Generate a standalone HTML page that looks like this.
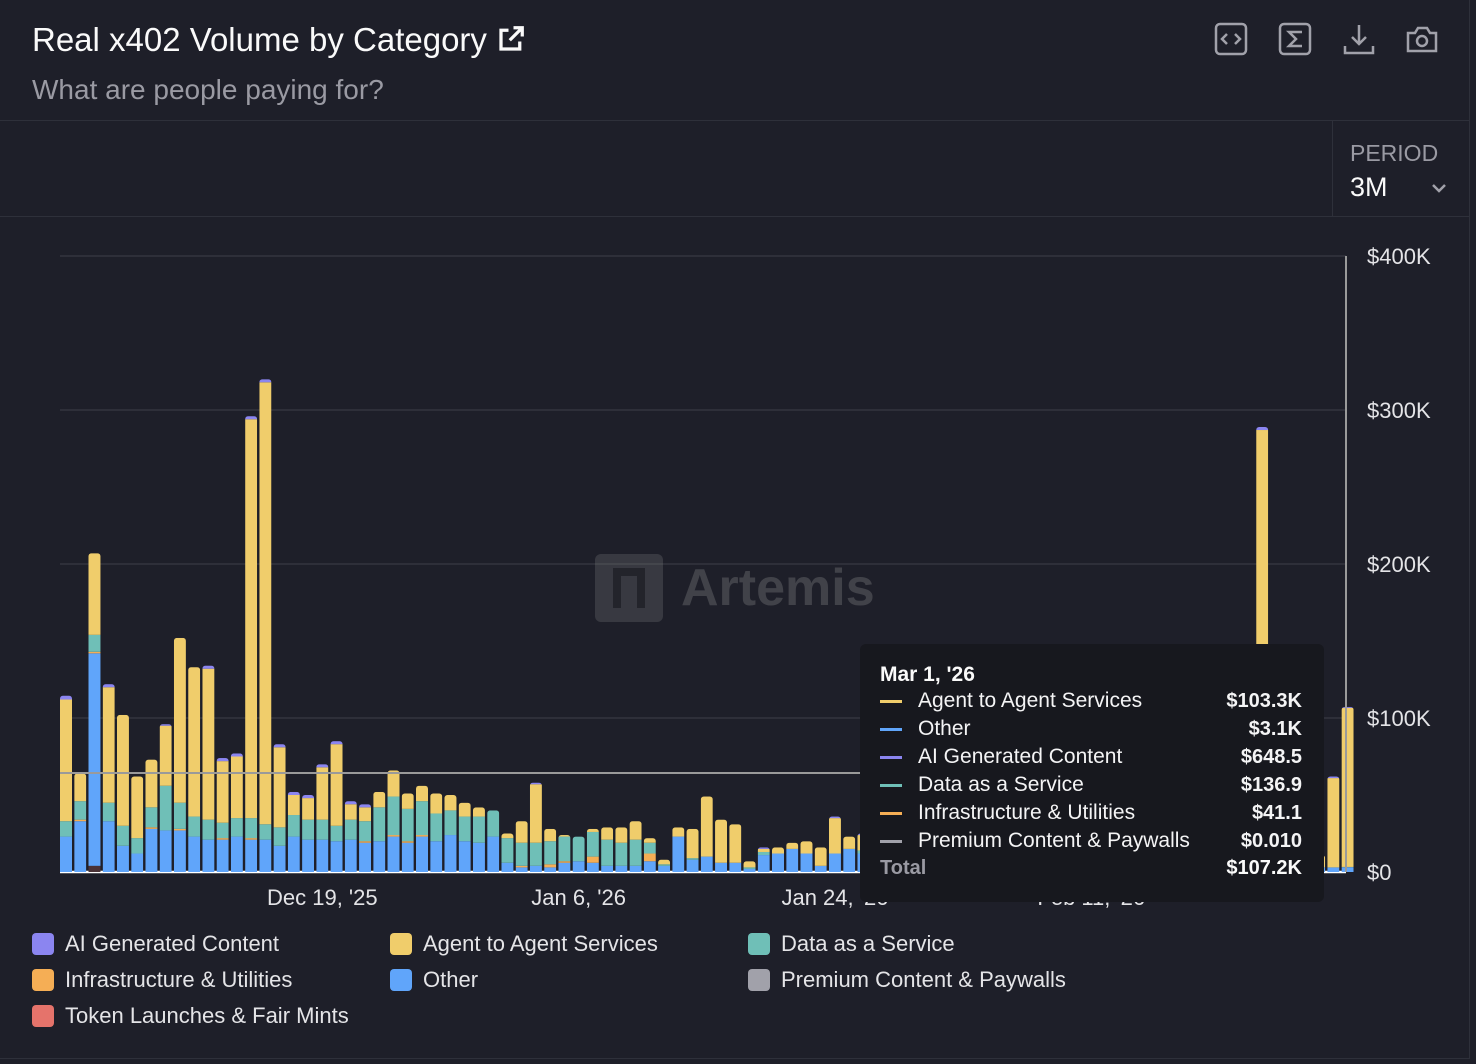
<!DOCTYPE html>
<html><head><meta charset="utf-8"><style>
body{margin:0;background:#1e1f29;width:1476px;height:1064px;overflow:hidden;font-family:"Liberation Sans",sans-serif;position:relative}
.abs{position:absolute}
.ico{position:absolute;top:22px;width:34px;height:34px;stroke:#a1a1aa;fill:none;stroke-width:2.5}
.leg{position:absolute;font-size:22px;color:#e4e4e7;display:flex;align-items:center}
.sw{width:22px;height:22px;border-radius:4px;margin-right:11px}
.tr{position:absolute;left:880px;width:422px;font-size:21px;color:#f4f4f5;display:flex;align-items:center}
.tr .ln{width:22px;height:3px;margin-right:16px}
.tr .v{margin-left:auto;font-weight:bold;font-size:20px}
</style></head><body>
<div class="abs" style="left:0;top:0;width:1469px;height:1058px;border-right:1px solid #2e303a;border-bottom:1px solid #2e303a"></div>
<div class="abs" style="left:32px;top:21px;font-size:33px;color:#fafafa">Real x402 Volume by Category <svg width="30" height="30" viewBox="0 0 24 24" style="vertical-align:-3px" fill="none" stroke="#fafafa" stroke-width="2.6"><path d="M14 3h7v7M21 3l-10 10M19 14v6H4V5h6"/></svg></div>
<div class="abs" style="left:32px;top:74px;font-size:28px;color:#9a9aa3">What are people paying for?</div>
<svg class="ico" style="left:1214px" viewBox="0 0 34 34"><rect x="2" y="2" width="30" height="30" rx="4"/><path d="M13 12l-5 5 5 5M21 12l5 5-5 5"/></svg>
<svg class="ico" style="left:1278px" viewBox="0 0 34 34"><rect x="2" y="2" width="30" height="30" rx="4"/><path d="M24 10H11l7 7-7 7h13"/></svg>
<svg class="ico" style="left:1342px" viewBox="0 0 34 34"><path d="M17 3v19M10 15l7 7 7-7M3 24v7h28v-7"/></svg>
<svg class="ico" style="left:1405px" viewBox="0 0 34 34"><path d="M3 11h7l3-5h9l3 5h6v18H3z"/><circle cx="17" cy="19" r="5"/></svg>
<div class="abs" style="left:0;top:120px;width:1469px;height:1px;background:#2e303a"></div>
<div class="abs" style="left:0;top:216px;width:1469px;height:1px;background:#2e303a"></div>
<div class="abs" style="left:1332px;top:121px;width:1px;height:95px;background:#2e303a"></div>
<div class="abs" style="left:1350px;top:140px;font-size:23px;color:#9a9aa3">PERIOD</div>
<div class="abs" style="left:1350px;top:172px;font-size:27px;color:#fafafa;width:100px">3M<svg width="18" height="12" viewBox="0 0 18 12" style="position:absolute;left:80px;top:10px" fill="none" stroke="#a1a1aa" stroke-width="2.5"><path d="M3 3l6 6 6-6"/></svg></div>
<svg id="chart" class="abs" style="left:0;top:0" width="1476" height="1064"></svg>
<div class="abs" style="left:595px;top:554px;display:flex;align-items:center;opacity:0.25"><div style="width:68px;height:68px;background:#888;border-radius:6px;margin-right:18px;position:relative"><div style="position:absolute;left:18px;top:14px;width:32px;height:40px;border:8px solid #333;border-bottom:none;box-sizing:border-box"></div></div><span style="font-size:52px;font-weight:bold;color:#aaa">Artemis</span></div>
<div class="abs" style="left:860px;top:644px;width:464px;height:258px;background:#17181e;border-radius:6px"></div>
<div class="abs" style="left:880px;top:663px;font-size:21px;font-weight:bold;color:#fafafa">Mar 1, '26</div>
<div class="tr" style="top:689px"><span class="ln" style="background:#f0cd6b"></span>Agent to Agent Services<span class="v">$103.3K</span></div>
<div class="tr" style="top:717px"><span class="ln" style="background:#60a5fa"></span>Other<span class="v">$3.1K</span></div>
<div class="tr" style="top:745px"><span class="ln" style="background:#8b85f0"></span>AI Generated Content<span class="v">$648.5</span></div>
<div class="tr" style="top:773px"><span class="ln" style="background:#6fbfb7"></span>Data as a Service<span class="v">$136.9</span></div>
<div class="tr" style="top:801px"><span class="ln" style="background:#f5ae55"></span>Infrastructure &amp; Utilities<span class="v">$41.1</span></div>
<div class="tr" style="top:829px"><span class="ln" style="background:#a1a1aa"></span>Premium Content &amp; Paywalls<span class="v">$0.010</span></div>
<div class="tr" style="top:857px;color:#9a9aa3;font-weight:bold;font-size:20px">Total<span class="v" style="color:#fafafa">$107.2K</span></div>
<div class="leg" style="left:32px;top:931px"><span class="sw" style="background:#8b85f0"></span>AI Generated Content</div>
<div class="leg" style="left:390px;top:931px"><span class="sw" style="background:#f0cd6b"></span>Agent to Agent Services</div>
<div class="leg" style="left:748px;top:931px"><span class="sw" style="background:#6fbfb7"></span>Data as a Service</div>
<div class="leg" style="left:32px;top:967px"><span class="sw" style="background:#f5ae55"></span>Infrastructure &amp; Utilities</div>
<div class="leg" style="left:390px;top:967px"><span class="sw" style="background:#60a5fa"></span>Other</div>
<div class="leg" style="left:748px;top:967px"><span class="sw" style="background:#a1a1aa"></span>Premium Content &amp; Paywalls</div>
<div class="leg" style="left:32px;top:1003px"><span class="sw" style="background:#e5736b"></span>Token Launches &amp; Fair Mints</div>
<script>
const yTicks=[0,100,200,300,400];
const yTickLabels=["$0","$100K","$200K","$300K","$400K"];
const xTickIdx=[18,36,54,72];
const xTickLabels=["Dec 19, '25","Jan 6, '26","Jan 24, '26","Feb 11, '26"];
const token=[0,0,4].concat(new Array(88).fill(0));
const other=[23,33,138,33,17,12,28,27,27,23,21,21,23,21,21,17,23,21,21,20,21,19,20,23,19,23,20,24,20,19,23,6,3,4,3,6,7,6,4,4,4,7,4,23,8,10,6,6,2,11,12,15,12,4,12,15,
12,14,10,8,12,15,10,9,12,14,8,10,12,11,9,13,10,12,8,9,11,10,12,9,10,8,11,6,3,5,6,4,3,3,3.1];
const infra=[0,1,1,0,0,0,1,0,1,0,0,1,0,1,0,0,0,0,0,0,0,1,0,1,1,1,0,0,0,0,0,0,1,0,2,1,0,4,0,0,0,5,0,0,0,0,0,0,0,0,0,0,0,0,0,0,
0,0,1,0,0,0,0,1,0,0,0,0,0,0,0,0,0,0,0,0,0,0,0,0,0,0,0,0,0,0,0,0,0,0,0.04];
const dataSvc=[10,12,11,12,13,10,13,29,17,13,13,10,12,13,10,12,14,13,13,10,13,13,22,25,21,22,18,16,16,17,17,16,15,15,15,16,16,16,17,15,17,7,1,0,1,0,0,0,1,2,0,0,0,0,0,0,
2,1,3,2,1,2,0,2,1,2,1,1,0,2,1,1,0,1,1,2,1,0,1,1,0,1,0,1,0,1,0,1,0,0,0.14];
const agent=[79,18,53,75,72,40,31,39,107,97,98,40,40,259,287,52,13,14,34,53,10,9,10,17,10,10,13,10,9,6,0,3,14,38,8,1,0,2,8,10,12,3,3,6,19,39,28,25,4,2,4,4,8,12,23,8,
10,18,14,6,22,9,13,30,8,16,11,24,9,7,19,12,8,15,10,21,9,14,26,8,12,17,9,20,284,15,12,18,8,58,103.3];
const ai=[2.5,0,0,2,0,0,0,1,0,0,2,2,2,2,2,2,2,2,2,2,2,2,0,0,0,0,0,0,0,0,0,0,0,1,0,0,0,0,0,0,0,0,0,0,0,0,0,0,0,1,0,0,0,0,1,0,
1,0,1,0,0,1,0,0,0,1,0,0,0,0,1,0,0,0,0,1,0,0,1,0,0,0,0,0,2,0,0,0,0,1,0.65];
const series=[[token,'#4a3236'],[other,'#60a5fa'],[infra,'#f5ae55'],[dataSvc,'#6fbfb7'],[agent,'#f0cd6b'],[ai,'#8b85f0']];
const NS='http://www.w3.org/2000/svg',svg=document.getElementById('chart');
const X0=66,DX=14.24,BW=12,Y0=872,K=1.54;
const xs=i=>X0+i*DX, ys=v=>Y0-v*K;
function mk(t,a,p){const e=document.createElementNS(NS,t);for(const k in a)e.setAttribute(k,a[k]);(p||svg).appendChild(e);return e;}
yTicks.forEach((t,i)=>{
 const g=mk('line',{x1:60,x2:1346,y1:ys(t),y2:ys(t),stroke:t===0?'#ffffff':'#33353f','stroke-width':t===0?2.5:1.5});
 
 
 const tx=mk('text',{x:1367,y:ys(t)+8,fill:'#e4e4e7','font-size':22,'font-family':'Liberation Sans, sans-serif'});
 tx.textContent=yTickLabels[i];
 
 
});
xTickIdx.forEach((d,i)=>{
 const tx=mk('text',{x:xs(d),y:905,fill:'#e4e4e7','font-size':22,'text-anchor':'middle','font-family':'Liberation Sans, sans-serif'});
 tx.textContent=xTickLabels[i];
 
 
});
for(let i=0;i<other.length;i++){
 const g=mk('g',{});
 
 
 const tot=series.reduce((s,[a])=>s+a[i],0);
 const cp='c'+i;
 const clip=mk('clipPath',{id:cp},g);
 mk('rect',{x:xs(i)-BW/2,y:ys(tot),width:BW,height:tot*K+4,rx:3},clip);
 const gg=mk('g',{'clip-path':'url(#'+cp+')'},g);
 let acc=0;
 series.forEach(([a,c])=>{const v=a[i];if(v>0){const r=mk('rect',{x:xs(i)-BW/2,y:ys(acc+v),width:BW,height:v*K,fill:c},gg);}acc+=v;});
}
const cy=mk('line',{x1:60,x2:860,y1:773,y2:773,stroke:'#9a9a9a','stroke-width':2});


const cx=mk('line',{x1:1346,x2:1346,y1:256,y2:872,stroke:'#9a9a9a','stroke-width':2});


</script>
</body></html>
